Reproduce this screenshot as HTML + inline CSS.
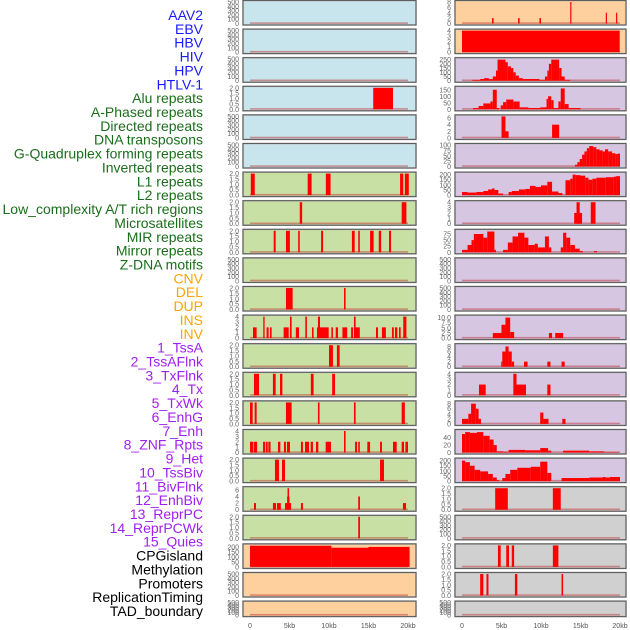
<!DOCTYPE html>
<html><head><meta charset="utf-8">
<style>
html,body{margin:0;padding:0;background:#fff;}
svg{display:block;font-family:"Liberation Sans",sans-serif;}
</style></head>
<body>
<svg id="chart" width="630" height="630" viewBox="0 0 630 630"></svg>
<script>
const trackLabels=["AAV2","EBV","HBV","HIV","HPV","HTLV-1","Alu repeats","A-Phased repeats","Directed repeats","DNA transposons","G-Quadruplex forming repeats","Inverted repeats","L1 repeats","L2 repeats","Low_complexity A/T rich regions","Microsatellites","MIR repeats","Mirror repeats","Z-DNA motifs","CNV","DEL","DUP","INS","INV","1_TssA","2_TssAFlnk","3_TxFlnk","4_Tx","5_TxWk","6_EnhG","7_Enh","8_ZNF_Rpts","9_Het","10_TssBiv","11_BivFlnk","12_EnhBiv","13_ReprPC","14_ReprPCWk","15_Quies","CPGisland","Methylation","Promoters","ReplicationTiming","TAD_boundary"];
const labelGroups=[6,13,5,15,5];
const groupColors=["#1a1aff","#1a6e1a","#ffa500","#a020f0","#000000"];
const xTickLabels=["0","5kb","10kb","15kb","20kb"];
const xTickValues=[0,5,10,15,20];
const T500=[0,100,200,300,400,500], T2=[0,0.5,1.0,1.5,2.0], T4=[0,1,2,3,4];
const leftTicks=[T500,T500,T500,T2,T500,T500,T2,T2,T2,T500,T2,T4,T2,T2,T2,T4,T2,[0,2,4,6],T2,[0,50,100,150,200],T500,T500];
const rightTicks=[[0,2,4,6,8],T4,[0,50,100,150,200,250],[0,50,100,150],[0,2,4,6],[0,25,50,75,100],[0,50,100,150,200],T4,[0,25,50,75],T500,T500,[0,2.5,5.0,7.5,10.0],[0,2,4,6,8],T4,[0,2,4,6,8],[0,20,40],[0,50,100,150,200],T2,T500,T2,T2,T500];
const leftMax=[500,500,500,2,500,500,2,2,2,500,2,4,2,2,2,4,2,6.5,2,215,500,500];
const rightMax=[8,4,255,165,6.5,100,210,4,88,500,500,10.5,8.5,4,8.5,58,210,2,500,2,2,500];
const leftBg=["#c8e4ec","#c8e4ec","#c8e4ec","#c8e4ec","#c8e4ec","#c8e4ec","#c8e0a4","#c8e0a4","#c8e0a4","#c8e0a4","#c8e0a4","#c8e0a4","#c8e0a4","#c8e0a4","#c8e0a4","#c8e0a4","#c8e0a4","#c8e0a4","#c8e0a4","#fdd09e","#fdd09e","#fdd09e"];
const rightBg=["#fdd09e","#fdd09e","#d6c6e2","#d6c6e2","#d6c6e2","#d6c6e2","#d6c6e2","#d6c6e2","#d6c6e2","#d6c6e2","#d6c6e2","#d6c6e2","#d6c6e2","#d6c6e2","#d6c6e2","#d6c6e2","#d6c6e2","#d0d0d0","#d0d0d0","#d0d0d0","#d0d0d0","#d0d0d0"];
const leftBars=[[],[],[],[[15.6,18.1,2]],[],[],
[[0.1,0.6,2],[7.3,7.8,2],[9.6,10.2,2],[19.0,19.4,2],[19.6,20.1,2]],
[[6.3,6.6,2],[19.2,19.8,2]],
[[3.0,3.25,2],[4.55,5.05,2],[6.1,6.3,2],[9.0,9.25,2],[12.9,13.25,2],[13.7,13.9,2],[15.2,15.65,2],[16.3,16.6,2],[17.6,17.85,2]],
[],
[[4.55,5.4,2],[11.9,12.1,2]],
[[0.38,0.84,2],[1.68,1.85,4],[2.1,2.36,2],[2.53,2.74,2],[4.26,4.9,2],[5.06,5.27,4],[5.8,6.2,2],[7.0,7.2,4],[7.85,8.05,2],[8.48,9.96,2],[8.6,8.86,4],[10.3,10.5,2],[10.85,11.14,2],[11.7,12.3,2],[12.8,13.04,2],[13.16,13.9,2],[13.16,13.37,4],[15.95,16.2,2],[16.7,17.2,2],[17.97,18.2,2],[18.35,18.65,2],[18.86,19.07,2],[19.4,19.8,4]],
[[10.0,10.5,2],[11.0,11.35,2]],
[[0.5,1.14,2],[2.9,3.25,2],[3.8,4.1,2],[7.7,8.05,2],[10.4,10.76,2]],
[[0,0.34,2],[0.59,0.84,2],[4.55,5.27,2],[8.6,8.8,2],[13.16,13.37,2],[19.2,19.6,2]],
[[0,0.42,2],[0.5,0.9,2],[1.65,1.9,2],[2.0,2.24,2],[2.32,2.6,2],[3.54,3.84,2],[4.3,4.55,2],[4.68,5.06,2],[6.45,6.7,2],[6.96,7.47,2],[7.68,7.97,2],[8.35,8.65,2],[9.58,10.25,2],[11.9,12.1,4],[13.3,13.55,2],[13.7,13.9,2],[14.85,15.2,2],[16.46,16.7,2],[18.1,18.57,2],[19.2,19.5,2],[19.67,20.0,2]],
[[3.16,3.67,2],[4.05,4.43,2],[16.46,16.96,2]],
[[0.5,0.76,2],[2.9,3.3,2],[3.42,3.9,2],[4.43,5.2,2],[4.7,5.0,4],[4.75,4.94,6.5],[6.45,6.7,2],[13.7,13.92,4],[19.36,19.75,2]],
[[13.7,13.92,2]],
[[0,10.3,212],[10.3,15.0,192],[15.0,20.2,200]],
[],[]];
const rightBars=[
[[3.8,4.0,2],[7.1,7.3,2],[9.8,10.0,2],[13.7,13.85,8],[18.2,18.35,4],[19.5,19.65,4]],
[[0,19.96,4]],
[[1.3,2.3,10],[2.3,2.8,20],[2.8,3.4,30],[3.4,3.9,20],[3.9,4.3,50],[4.3,4.5,120],[4.5,5.5,250],[5.5,5.8,220],[5.8,6.2,170],[6.2,6.5,150],[6.5,6.8,100],[6.8,7.2,60],[7.2,7.7,30],[7.7,9.8,20],[9.8,10.5,10],[10.5,10.8,50],[10.8,11.0,120],[11.0,11.3,200],[11.3,12.3,250],[12.3,12.6,150],[12.6,13.0,50],[13.0,13.7,10]],
[[1.4,2.1,10],[2.1,2.7,25],[2.7,3.6,45],[3.6,3.9,60],[3.9,4.4,150],[4.4,4.7,10],[4.9,5.2,30],[5.2,5.6,55],[5.6,6.5,75],[6.5,7.3,60],[7.3,8.4,15],[8.4,9.9,10],[9.9,10.7,15],[10.7,10.9,80],[10.9,11.3,100],[11.3,11.6,70],[11.6,12.2,10],[12.2,12.5,60],[12.5,13.0,160],[13.0,13.5,40],[13.5,15.0,10]],
[[5.0,5.5,6.5],[5.5,5.9,2],[11.4,12.3,4]],
[[14.3,14.6,8],[14.6,14.9,20],[14.9,15.2,35],[15.2,15.5,55],[15.5,15.8,70],[15.8,16.1,85],[16.1,16.6,95],[16.6,17.0,90],[17.0,17.4,80],[17.4,17.8,75],[17.8,18.1,70],[18.1,18.5,80],[18.5,19.0,70],[19.0,19.4,62],[19.4,19.7,58],[19.7,20.0,60]],
[[0,0.7,30],[0.7,1.8,25],[1.8,2.7,30],[2.7,3.3,40],[3.3,3.8,55],[3.8,4.1,65],[4.1,4.6,50],[4.6,5.2,15],[5.9,6.3,30],[6.3,7.2,40],[7.2,8.0,55],[8.0,8.6,60],[8.6,9.3,90],[9.3,10.0,80],[10.0,10.8,95],[10.8,11.4,130],[11.4,12.2,35],[12.2,12.7,20],[13.1,13.7,145],[13.7,14.0,160],[14.0,14.4,200],[14.4,15.0,195],[15.0,15.6,190],[15.6,16.0,170],[16.0,16.5,150],[16.5,17.0,160],[17.0,18.2,170],[18.2,19.2,175],[19.2,19.5,180],[19.5,20.0,185]],
[[14.2,15.2,2],[14.5,14.9,4],[16.3,16.9,4]],
[[0,0.7,10],[0.7,1.2,30],[1.2,1.5,50],[1.5,2.7,75],[2.7,3.2,60],[3.2,4.1,85],[4.1,4.3,10],[5.2,5.8,10],[5.8,6.4,40],[6.4,7.1,65],[7.1,7.9,80],[7.9,8.4,60],[8.4,9.2,30],[9.2,9.6,35],[9.6,10.5,20],[10.5,11.0,65],[11.0,11.3,20],[12.5,12.8,20],[12.8,13.2,80],[13.2,13.7,60],[13.7,14.3,30],[14.3,14.9,15],[14.9,15.3,5],[16.7,17.1,5]],
[],[],
[[3.9,5.0,2.5],[5.0,5.5,6.5],[5.5,6.1,10],[6.1,6.6,3],[11.0,11.4,2.5],[11.8,12.8,2.5]],
[[4.97,5.1,2],[5.1,5.5,6],[5.5,5.9,8],[5.9,6.3,6],[6.3,6.6,2],[7.85,8.3,2],[10.8,11.2,2],[12.6,13.0,2]],
[[2.15,3.0,2],[6.5,6.9,4],[6.9,8.1,2],[10.8,11.2,2]],
[[0,0.8,2],[0.8,1.15,4],[1.15,1.75,8],[1.75,2.1,6],[2.1,2.4,2],[9.9,10.3,4.5],[10.3,10.95,2],[12.7,13.1,2]],
[[0,0.4,50],[0.4,1.0,55],[1.0,1.9,53],[1.9,2.7,55],[2.7,3.5,45],[3.5,4.0,35],[4.0,4.4,20],[4.4,5.2,3],[5.2,5.9,2],[5.9,8.0,7],[8.0,9.9,6],[9.9,10.9,12],[10.9,11.3,5],[12.8,16.1,5],[16.1,18.0,3],[18.0,19.8,1]],
[[0,0.4,200],[0.4,1.0,185],[1.0,1.6,150],[1.6,2.3,110],[2.3,3.3,95],[3.3,3.9,70],[3.9,4.4,35],[4.4,4.7,10],[5.1,5.5,30],[5.5,6.1,70],[6.1,7.0,110],[7.0,8.7,130],[8.7,9.9,140],[9.9,10.8,190],[10.8,11.3,80],[12.6,16.1,30],[16.1,17.8,35],[17.8,18.2,40],[18.2,18.7,35],[18.7,20.0,40]],
[[4.2,5.8,2],[11.5,12.5,2]],
[],
[[4.55,4.9,2],[5.6,5.95,2],[6.3,6.6,2],[11.5,11.9,2],[11.9,12.2,2]],
[[2.3,2.7,2],[3.1,3.35,2],[6.7,7.0,2],[12.6,12.8,2]],
[]];

const NS="http://www.w3.org/2000/svg";
const svg=document.getElementById("chart");
function mk(tag,attrs,parent){const e=document.createElementNS(NS,tag);for(const k in attrs)e.setAttribute(k,attrs[k]);(parent||svg).appendChild(e);return e;}
function rowTop(i){return i*28.6;}
function rowH(i){return i===21?15.5:24.5;}
const cols=[{px:243,pw:173,x0:250,x1:408,ticks:leftTicks,max:leftMax,bg:leftBg,bars:leftBars,name:"left"},
            {px:455,pw:171,x0:462,x1:620,ticks:rightTicks,max:rightMax,bg:rightBg,bars:rightBars,name:"right"}];
function fmt(v,ticks){const dec=ticks.some(t=>t%1!==0);return dec?v.toFixed(1):String(v);}

let li=0;
const nLab=trackLabels.length;
labelGroups.forEach((n,g)=>{for(let k=0;k<n;k++){const y=15+li*(596/(nLab-1));
  const t=mk("text",{x:203,y:y+5,"text-anchor":"end","font-size":"14",fill:groupColors[g]});
  
  
  t.textContent=trackLabels[li];li++;}});

cols.forEach(c=>{
  const sx=v=>c.x0+(v/20)*(c.x1-c.x0);
  for(let i=0;i<22;i++){
    const top=rowTop(i),h=rowH(i);
    const g=mk("g",{});
    
    
    mk("rect",{x:c.px,y:top+0.5,width:c.pw,height:h,fill:c.bg[i],stroke:"#aaa","stroke-width":"1.6"},g);
    mk("rect",{x:c.px,y:top+0.5,width:c.pw,height:h,fill:"none",stroke:"#555","stroke-width":"0.9"},g);
    const yb=top+h-1,yt=top+2;
    const sy=v=>yb-(v/c.max[i])*(yb-yt);
    mk("rect",{x:sx(0),y:yb-1.2,width:sx(20)-sx(0),height:1.6,fill:"rgba(190,40,40,0.45)"},g);
    c.bars[i].forEach(b=>{
      const r=mk("rect",{x:sx(b[0]),y:sy(b[2]),width:Math.max(0.8,sx(b[1])-sx(b[0])),height:yb-sy(b[2]),fill:"#ff0000"},g);
      
      
    });
    c.ticks[i].forEach(tv=>{
      const t=mk("text",{x:c.px-4,y:sy(tv)+2.5,"text-anchor":"end","font-size":"7",fill:"#666"},g);
      
      
      t.textContent=fmt(tv,c.ticks[i]);
    });
  }
  xTickValues.forEach((v,k)=>{
    const t=mk("text",{x:sx(v),y:628,"text-anchor":"middle","font-size":"7",fill:"#555"});
    
    
    t.textContent=xTickLabels[k];
  });
});
</script>
</body></html>
